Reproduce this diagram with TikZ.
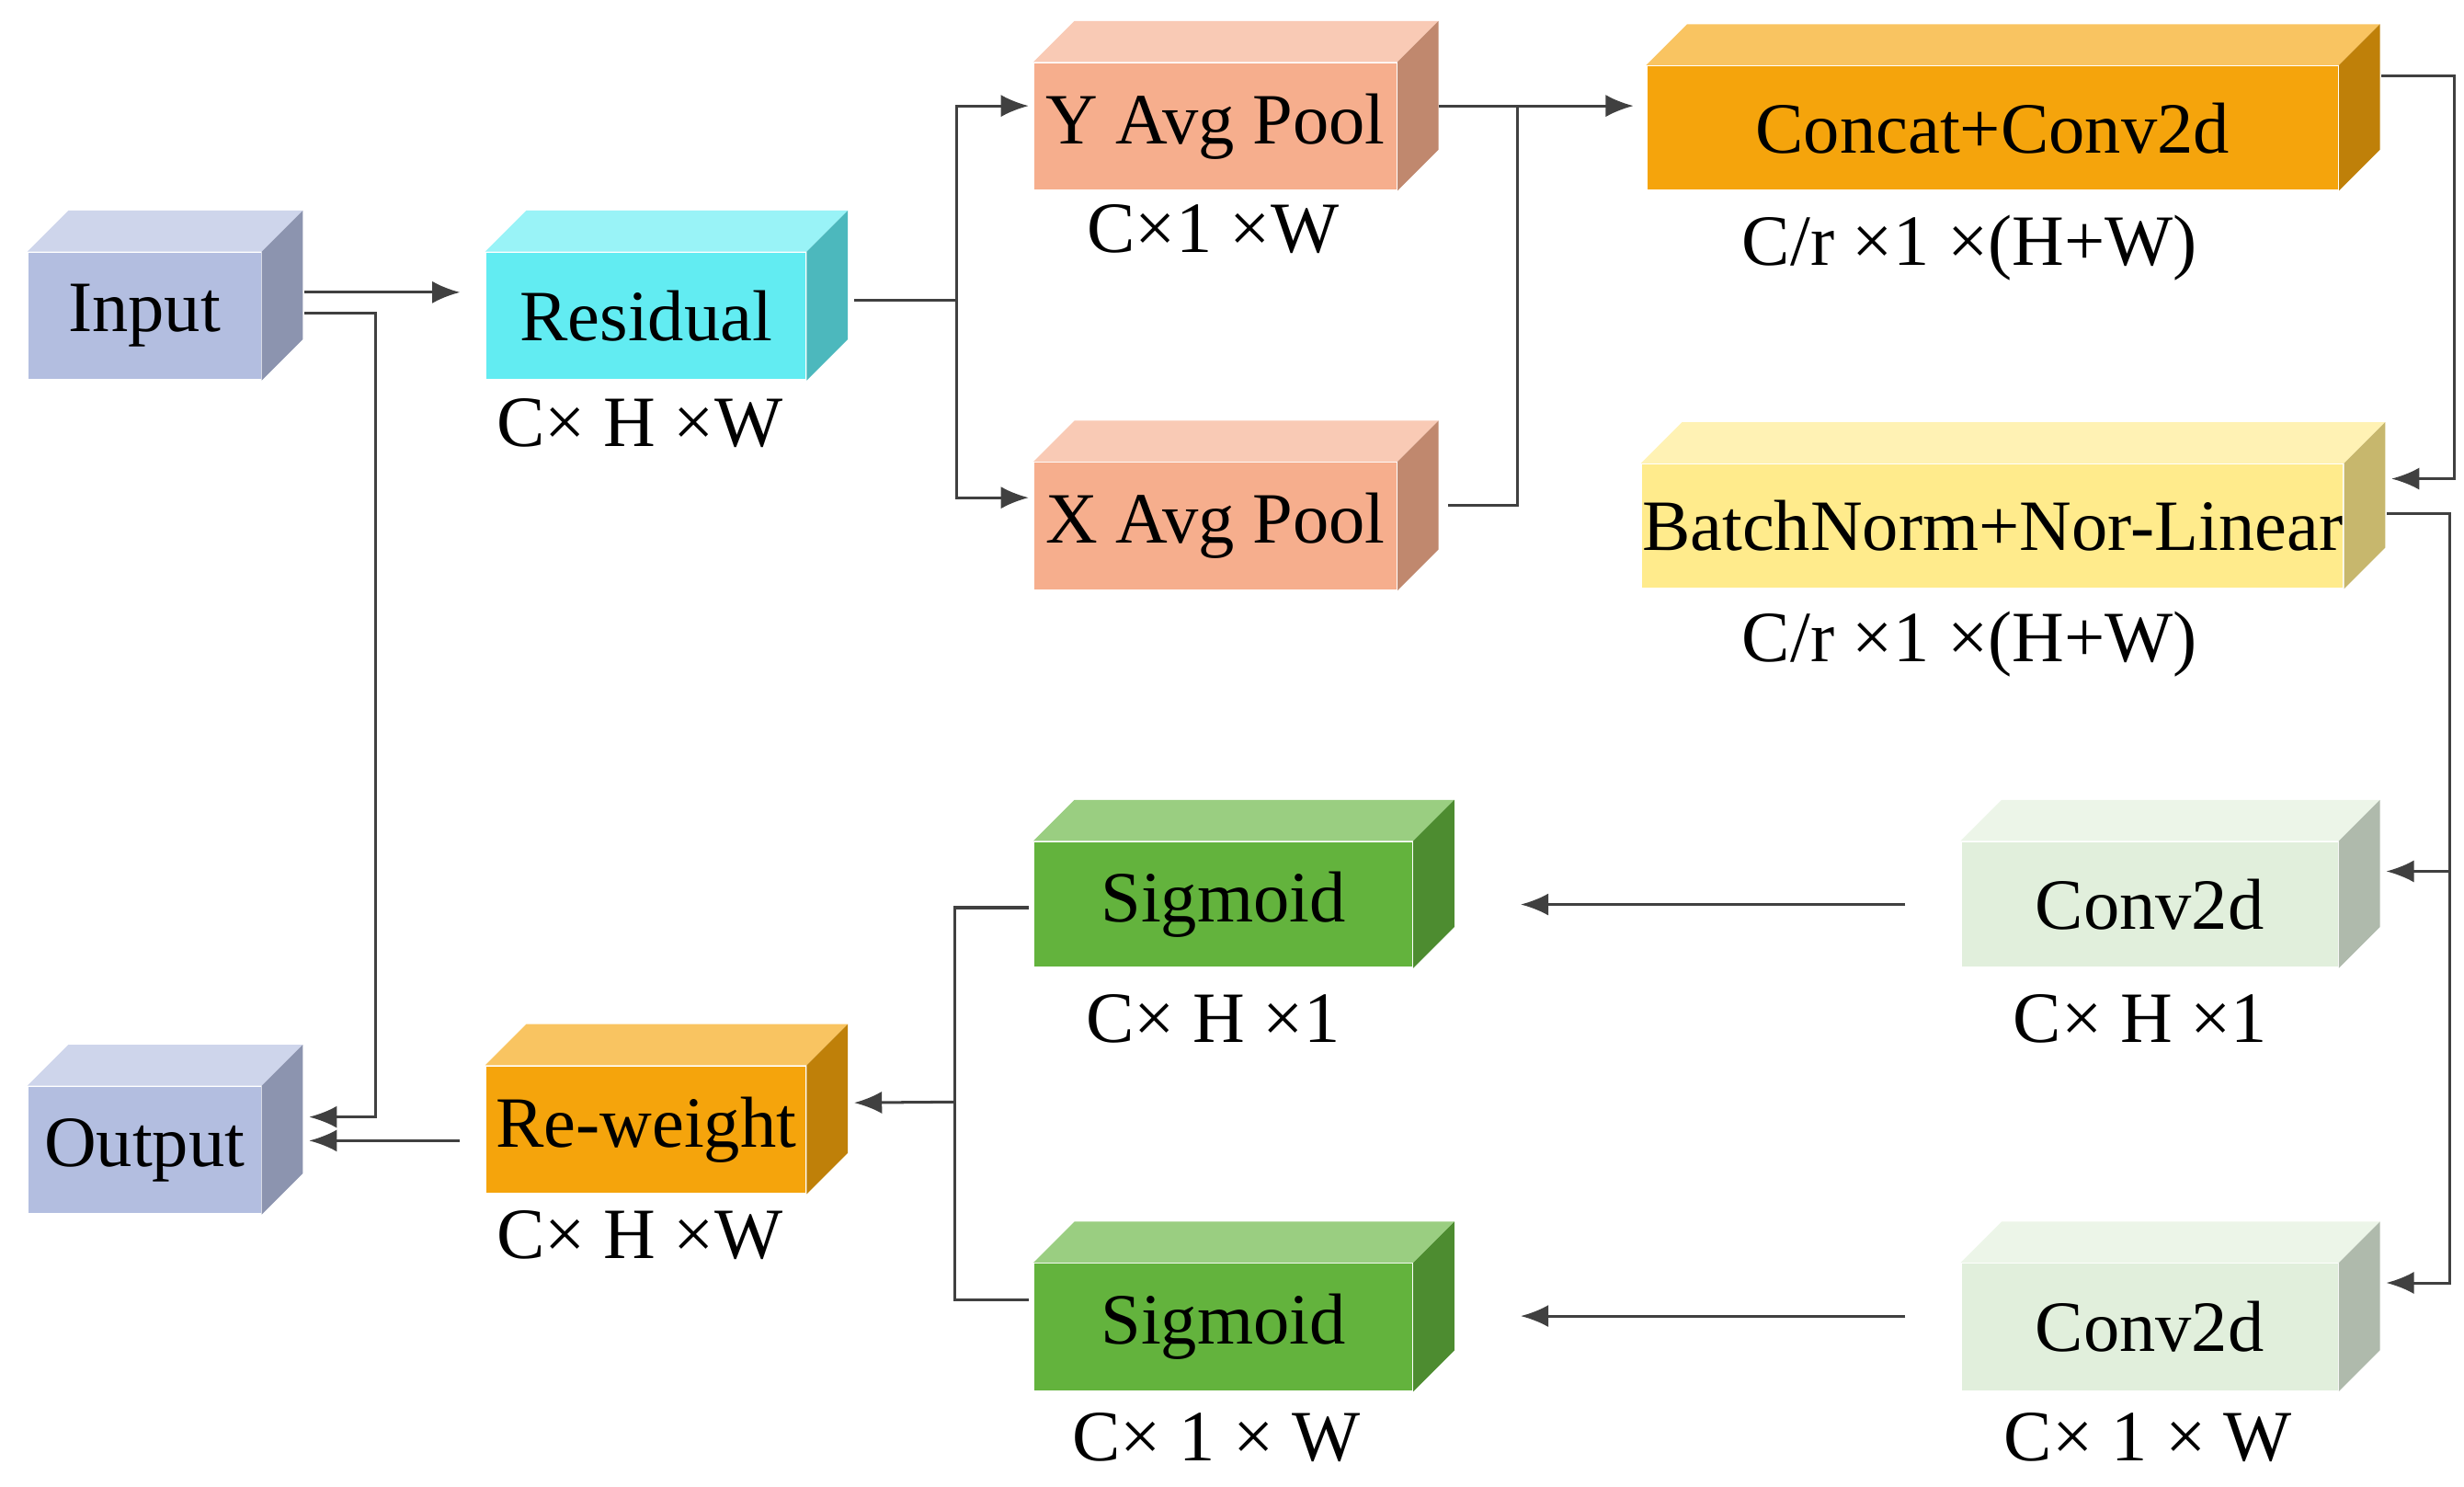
\documentclass[tikz,border=0pt]{standalone}
\usepackage{fontspec}
\setmainfont{Liberation Serif}
\usetikzlibrary{calc,arrows.meta}
\definecolor{cInp}{HTML}{B3BEE0}
\definecolor{cRes}{HTML}{62ECF2}
\definecolor{cPool}{HTML}{F6AE8D}
\definecolor{cOra}{HTML}{F5A40C}
\definecolor{cBN}{HTML}{FFEB8C}
\definecolor{cSig}{HTML}{63B33D}
\definecolor{cCnv}{HTML}{E1EFDC}
\tikzset{
  box/.style={rectangle, inner sep=0pt, font=\fontsize{13}{15}\selectfont},
  dim/.style={font=\fontsize{13}{15}\selectfont, inner sep=0pt},
  line/.style={draw=black!75, line width=0.5pt},
  arr/.style={line, -{Latex[length=5pt,width=4pt]}}
}
% depth of the 3D boxes: 26 px
\newcommand{\cubeface}[2]{%
  \fill[#2!65!white] (#1.north west) -- ++(26,-26) -- ($(#1.north east)+(26,-26)$) -- (#1.north east) -- cycle;
  \fill[#2!78!black] (#1.north east) -- ++(26,-26) -- ($(#1.south east)+(26,-26)$) -- (#1.south east) -- cycle;}
\begin{document}
\begin{tikzpicture}[x=0.01cm,y=-0.01cm]
\useasboundingbox (0,0) rectangle (1560,941);
% boxes (front faces)
\node[box, fill=cInp, minimum width=1.47cm, minimum height=0.8cm] (inp) at (91.5,200) {Input};
\node[box, fill=cInp, minimum width=1.47cm, minimum height=0.8cm] (out) at (91.5,728) {Output};
\node[box, fill=cRes, minimum width=2.02cm, minimum height=0.8cm] (res) at (409,200) {Residual};
\node[box, fill=cOra, minimum width=2.02cm, minimum height=0.8cm] (rew) at (409,715) {Re-weight};
\node[box, fill=cPool, minimum width=2.29cm, minimum height=0.8cm] (yp) at (769.5,80) {Y Avg Pool};
\node[box, fill=cPool, minimum width=2.29cm, minimum height=0.8cm] (xp) at (769.5,333) {X Avg Pool};
\node[box, fill=cOra, minimum width=4.37cm, minimum height=0.78cm] (cat) at (1261.5,81) {Concat+Conv2d};
\node[box, fill=cBN, minimum width=4.37cm, minimum height=0.78cm] (bn) at (1261.5,333) {BatchNorm+Nor-Linear};
\node[box, fill=cSig, minimum width=2.39cm, minimum height=0.79cm] (sg1) at (774.5,572.5) {Sigmoid};
\node[box, fill=cSig, minimum width=2.39cm, minimum height=0.8cm] (sg2) at (774.5,840) {Sigmoid};
\node[box, fill=cCnv, minimum width=2.38cm, minimum height=0.79cm] (cv1) at (1361,572.5) {Conv2d};
\node[box, fill=cCnv, minimum width=2.38cm, minimum height=0.8cm] (cv2) at (1361,840) {Conv2d};
\cubeface{inp}{cInp}\cubeface{out}{cInp}\cubeface{res}{cRes}\cubeface{rew}{cOra}
\cubeface{yp}{cPool}\cubeface{xp}{cPool}\cubeface{cat}{cOra}\cubeface{bn}{cBN}
\cubeface{sg1}{cSig}\cubeface{sg2}{cSig}\cubeface{cv1}{cCnv}\cubeface{cv2}{cCnv}
% dimension labels
\node[dim] (d1) at (405,268) {C× H ×W};
\node[dim] (d2) at (768,145) {C×1 ×W};
\node[dim] (d3) at (1247,157) {C/r ×1 ×(H+W)};
\node[dim] (d4) at (1247,408) {C/r ×1 ×(H+W)};
\node[dim] (d5) at (768,645) {C× H ×1};
\node[dim] (d6) at (770,910) {C× 1 × W};
\node[dim] (d7) at (1355,645) {C× H ×1};
\node[dim] (d8) at (1360,910) {C× 1 × W};
\node[dim] (d9) at (405,782) {C× H ×W};
% connectors
\draw[arr] ($(inp.east)+(27,-15)$) -- ($(res.west)+(-16,-15)$);
\draw[arr] ($(inp.east)+(27,-2)$) -| ($(out.east)+(72,-21)$) -- ($(out.east)+(30,-21)$);
\draw[line] ($(res.east)+(30,-10)$) -- ($(res.east)+(95,-10)$);
\draw[arr] ($(res.east)+(95,-10)$) |- ($(yp.west)+(-3,-13)$);
\draw[arr] ($(res.east)+(95,-10)$) |- ($(xp.west)+(-3,-18)$);
\draw[arr] ($(yp.east)+(26,-13)$) -- ($(cat.west)+(-8,-14)$);
\draw[line] ($(xp.east)+(32,-13)$) -| ($(yp.east)+(76,-13)$);
\draw[arr] ($(cat.east)+(27,-33)$) -| ($(bn.east)+(70,-30)$) -- ($(bn.east)+(30,-30)$);
\draw[arr] ($(bn.east)+(27,-8)$) -| ($(cv2.east)+(70,-28)$) -- ($(cv2.east)+(30,-28)$);
\draw[arr] ($(cv1.east)+(70,-21)$) -- ($(cv1.east)+(30,-21)$);
\draw[arr] ($(cv1.west)+(-35,0)$) -- ($(sg1.east)+(68,0)$);
\draw[arr] ($(cv2.west)+(-35,-7)$) -- ($(sg2.east)+(68,-7)$);
\draw[line] ($(sg1.west)+(-3,2)$) -| ($(sg2.west)+(-50,-17)$) -- ($(sg2.west)+(-3,-17)$);
\draw[arr] ($(sg1.west)+(-50,125)$) -- ($(rew.east)+(30,-17)$);
\draw[arr] ($(rew.west)+(-16,7)$) -- ($(out.east)+(30,-6)$);
\end{tikzpicture}
\end{document}
